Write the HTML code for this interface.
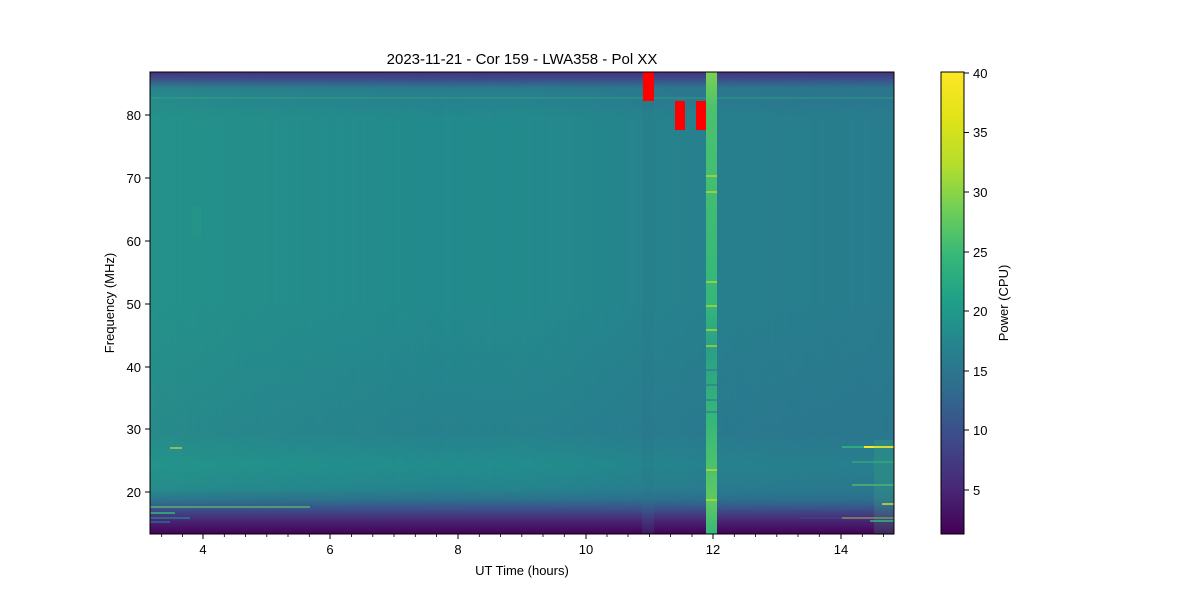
<!DOCTYPE html>
<html><head><meta charset="utf-8"><style>
html,body{margin:0;padding:0;background:#fff;}
svg{display:block;font-family:"Liberation Sans","DejaVu Sans",sans-serif;}
</style></head><body>
<svg width="1200" height="600" viewBox="0 0 1200 600" xmlns="http://www.w3.org/2000/svg">
<defs>
<linearGradient id="vg" x1="0" y1="0" x2="0" y2="1">
<stop offset="0" stop-color="#46317e"/>
<stop offset="0.015" stop-color="#3e4a89"/>
<stop offset="0.035" stop-color="#2a7b8e"/>
<stop offset="0.1" stop-color="#238a8d"/>
<stop offset="0.5" stop-color="#238a8d"/>
<stop offset="0.78" stop-color="#27818e"/>
<stop offset="0.85" stop-color="#228d8d"/>
<stop offset="0.9" stop-color="#25848e"/>
<stop offset="0.925" stop-color="#2c718e"/>
<stop offset="0.945" stop-color="#3b528b"/>
<stop offset="0.97" stop-color="#482777"/>
<stop offset="1" stop-color="#440154"/>
</linearGradient>
<linearGradient id="hg" x1="0" y1="0" x2="1" y2="0">
<stop offset="0" stop-color="#2db27d" stop-opacity="0.2"/>
<stop offset="0.12" stop-color="#2db27d" stop-opacity="0.12"/>
<stop offset="0.4" stop-color="#2db27d" stop-opacity="0"/>
<stop offset="0.6" stop-color="#31688e" stop-opacity="0.1"/>
<stop offset="0.75" stop-color="#31688e" stop-opacity="0.3"/>
<stop offset="1" stop-color="#31688e" stop-opacity="0.4"/>
</linearGradient>
<linearGradient id="hmask" x1="0" y1="0" x2="0" y2="1">
<stop offset="0" stop-color="#fff" stop-opacity="0"/>
<stop offset="0.05" stop-color="#fff" stop-opacity="1"/>
<stop offset="0.9" stop-color="#fff" stop-opacity="1"/>
<stop offset="0.95" stop-color="#fff" stop-opacity="0"/>
</linearGradient>
<mask id="m"><rect x="150" y="72" width="744" height="462" fill="url(#hmask)"/></mask>
<linearGradient id="cb" x1="0" y1="1" x2="0" y2="0">
<stop offset="0" stop-color="#440154"/>
<stop offset="0.1" stop-color="#482878"/>
<stop offset="0.2" stop-color="#3e4989"/>
<stop offset="0.3" stop-color="#31688e"/>
<stop offset="0.4" stop-color="#26828e"/>
<stop offset="0.5" stop-color="#1f9e89"/>
<stop offset="0.6" stop-color="#35b779"/>
<stop offset="0.7" stop-color="#6ece58"/>
<stop offset="0.8" stop-color="#b5de2b"/>
<stop offset="0.9" stop-color="#e0e318"/>
<stop offset="1" stop-color="#fde725"/>
</linearGradient>
<linearGradient id="col" x1="0" y1="0" x2="0" y2="1">
<stop offset="0" stop-color="#7ad151"/>
<stop offset="0.08" stop-color="#4ac16d"/>
<stop offset="0.5" stop-color="#35b779"/>
<stop offset="0.6" stop-color="#2a9f87"/>
<stop offset="0.75" stop-color="#35b779"/>
<stop offset="0.93" stop-color="#5ec962"/>
<stop offset="1" stop-color="#35b779"/>
</linearGradient>
</defs>
<text x="522" y="64" font-size="15" text-anchor="middle">2023-11-21 - Cor 159 - LWA358 - Pol XX</text>
<rect x="150" y="72" width="744" height="462" fill="url(#vg)"/>
<rect x="150" y="72" width="744" height="462" fill="url(#hg)" mask="url(#m)"/>
<rect x="192" y="206" width="10" height="30" fill="#2db27d" opacity="0.12"/>
<rect x="642" y="80" width="12" height="454" fill="#2c728e" opacity="0.2"/>
<line x1="150" y1="98" x2="894" y2="98" stroke="#2db27d" stroke-width="1" opacity="0.6"/>
<line x1="150" y1="507" x2="310" y2="507" stroke="#5ec962" stroke-width="1.5" opacity="0.8"/>
<line x1="150" y1="513" x2="175" y2="513" stroke="#35b779" stroke-width="1.5"/>
<line x1="150" y1="518" x2="190" y2="518" stroke="#2a788e" stroke-width="1.5"/>
<line x1="150" y1="522" x2="170" y2="522" stroke="#31688e" stroke-width="1.5"/>
<line x1="170" y1="448" x2="182" y2="448" stroke="#fde725" stroke-width="1"/>
<line x1="842" y1="447" x2="894" y2="447" stroke="#35b779" stroke-width="1.5"/>
<line x1="864" y1="447" x2="894" y2="447" stroke="#fde725" stroke-width="2"/>
<line x1="852" y1="462" x2="894" y2="462" stroke="#35b779" stroke-width="1"/>
<line x1="852" y1="485" x2="894" y2="485" stroke="#6ece58" stroke-width="1"/>
<line x1="882" y1="504" x2="894" y2="504" stroke="#fde725" stroke-width="1.5"/>
<line x1="842" y1="518" x2="894" y2="518" stroke="#fde725" stroke-width="1.5"/>
<line x1="800" y1="518" x2="894" y2="518" stroke="#3e4989" stroke-width="1.5" opacity="0.7"/>
<line x1="870" y1="521" x2="894" y2="521" stroke="#35b779" stroke-width="1.5"/>
<rect x="874" y="440" width="20" height="95" fill="#35b779" opacity="0.2"/>
<rect x="706" y="72" width="11" height="462" fill="url(#col)"/>
<g stroke="#c8e020" stroke-width="1.2">
<line x1="706" y1="176" x2="717" y2="176"/><line x1="706" y1="192" x2="717" y2="192"/>
<line x1="706" y1="282" x2="717" y2="282"/><line x1="706" y1="306" x2="717" y2="306"/>
<line x1="706" y1="330" x2="717" y2="330"/><line x1="706" y1="346" x2="717" y2="346"/>
<line x1="706" y1="470" x2="717" y2="470"/><line x1="706" y1="500" x2="717" y2="500"/>
</g>
<g stroke="#31688e" stroke-width="1.5" opacity="0.6">
<line x1="706" y1="370" x2="717" y2="370"/><line x1="706" y1="385" x2="717" y2="385"/>
<line x1="706" y1="400" x2="717" y2="400"/><line x1="706" y1="412" x2="717" y2="412"/>
</g>
<rect x="643" y="72" width="11" height="29" fill="#ff0000"/>
<rect x="675" y="101" width="10" height="29" fill="#ff0000"/>
<rect x="696" y="101" width="10" height="29" fill="#ff0000"/>
<rect x="150" y="72" width="744" height="462" fill="none" stroke="#000" stroke-width="1"/>
<g stroke="#000" stroke-width="1">
<line x1="203" y1="534" x2="203" y2="539"/><line x1="330" y1="534" x2="330" y2="539"/>
<line x1="458" y1="534" x2="458" y2="539"/><line x1="586" y1="534" x2="586" y2="539"/>
<line x1="713" y1="534" x2="713" y2="539"/><line x1="841" y1="534" x2="841" y2="539"/>
</g>
<g stroke="#000" stroke-width="0.8">
<line x1="161.7" y1="534" x2="161.7" y2="537"/><line x1="182.4" y1="534" x2="182.4" y2="537"/>
<line x1="224.3" y1="534" x2="224.3" y2="537"/><line x1="245.5" y1="534" x2="245.5" y2="537"/>
<line x1="266.8" y1="534" x2="266.8" y2="537"/><line x1="288" y1="534" x2="288" y2="537"/>
<line x1="309.3" y1="534" x2="309.3" y2="537"/><line x1="351.5" y1="534" x2="351.5" y2="537"/>
<line x1="372.8" y1="534" x2="372.8" y2="537"/><line x1="394" y1="534" x2="394" y2="537"/>
<line x1="415.3" y1="534" x2="415.3" y2="537"/><line x1="436.5" y1="534" x2="436.5" y2="537"/>
<line x1="479.3" y1="534" x2="479.3" y2="537"/><line x1="500.5" y1="534" x2="500.5" y2="537"/>
<line x1="521.8" y1="534" x2="521.8" y2="537"/><line x1="543" y1="534" x2="543" y2="537"/>
<line x1="564.3" y1="534" x2="564.3" y2="537"/><line x1="607" y1="534" x2="607" y2="537"/>
<line x1="628" y1="534" x2="628" y2="537"/><line x1="649.5" y1="534" x2="649.5" y2="537"/>
<line x1="670.5" y1="534" x2="670.5" y2="537"/><line x1="692" y1="534" x2="692" y2="537"/>
<line x1="734.3" y1="534" x2="734.3" y2="537"/><line x1="755.5" y1="534" x2="755.5" y2="537"/>
<line x1="776.8" y1="534" x2="776.8" y2="537"/><line x1="798" y1="534" x2="798" y2="537"/>
<line x1="819.3" y1="534" x2="819.3" y2="537"/><line x1="862.3" y1="534" x2="862.3" y2="537"/>
<line x1="883.5" y1="534" x2="883.5" y2="537"/>
</g>
<g font-size="13" text-anchor="middle">
<text x="203" y="554">4</text><text x="330" y="554">6</text><text x="458" y="554">8</text>
<text x="586" y="554">10</text><text x="713" y="554">12</text><text x="841" y="554">14</text>
</g>
<text x="522" y="575" font-size="13" text-anchor="middle">UT Time (hours)</text>
<g stroke="#000" stroke-width="1">
<line x1="145" y1="115" x2="150" y2="115"/><line x1="145" y1="178" x2="150" y2="178"/>
<line x1="145" y1="241" x2="150" y2="241"/><line x1="145" y1="304" x2="150" y2="304"/>
<line x1="145" y1="367" x2="150" y2="367"/><line x1="145" y1="429" x2="150" y2="429"/>
<line x1="145" y1="492" x2="150" y2="492"/>
</g>
<g font-size="13" text-anchor="end">
<text x="141" y="120">80</text><text x="141" y="183">70</text><text x="141" y="246">60</text>
<text x="141" y="309">50</text><text x="141" y="372">40</text><text x="141" y="434">30</text>
<text x="141" y="497">20</text>
</g>
<text transform="translate(114,303) rotate(-90)" font-size="13" text-anchor="middle">Frequency (MHz)</text>
<rect x="941" y="72" width="23" height="462" fill="url(#cb)" stroke="#000" stroke-width="1"/>
<g stroke="#000" stroke-width="1">
<line x1="964" y1="73" x2="969" y2="73"/><line x1="964" y1="132.5" x2="969" y2="132.5"/>
<line x1="964" y1="192" x2="969" y2="192"/><line x1="964" y1="252" x2="969" y2="252"/>
<line x1="964" y1="311" x2="969" y2="311"/><line x1="964" y1="371" x2="969" y2="371"/>
<line x1="964" y1="430" x2="969" y2="430"/><line x1="964" y1="490" x2="969" y2="490"/>
</g>
<g font-size="13">
<text x="973" y="78">40</text><text x="973" y="137">35</text><text x="973" y="197">30</text>
<text x="973" y="257">25</text><text x="973" y="316">20</text><text x="973" y="376">15</text>
<text x="973" y="435">10</text><text x="973" y="495">5</text>
</g>
<text transform="translate(1008,303) rotate(-90)" font-size="13" text-anchor="middle">Power (CPU)</text>
</svg>
</body></html>
